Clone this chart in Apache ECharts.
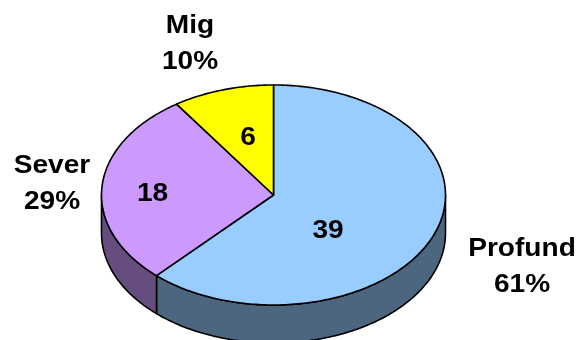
<!DOCTYPE html>
<html><head><meta charset="utf-8">
<script src="https://cdn.jsdelivr.net/npm/echarts@6/dist/echarts.min.js"></script>
<style>html,body{margin:0;background:#fff}#c{width:585px;height:340px}</style>
</head><body><div id="c"></div>
<script>
const categories = ['Profund', 'Sever', 'Mig'];
const values = [39, 18, 6];
const percentLabels = ['61%', '29%', '10%'];

const topColors = ['#99CCFF', '#CC99FF', '#FFFF00'];
const sideColors = ['#4D6680', '#664D80', '#808000'];

// tilted disc geometry, pixels
const disc = { cx: 273.5, cy: 195, rx: 172, ry: 110, depth: 38 };
// value label spots, in disc-radius units from the centre
const innerLabelAt = [[0.317, 0.33], [-0.703, -0.01], [-0.148, -0.52]];
// category label spots, pixels
const outerLabelAt = [[522, 267], [52, 184], [190, 44]];

const FONT = 'bold 26px "Liberation Sans", Arial, sans-serif';
const TEXT_STRETCH = 1.08;
const total = values.reduce((s, v) => s + v, 0);

// point on the rim, angle in degrees clockwise from 12 o'clock
function rim(theta, drop) {
  const r = theta * Math.PI / 180;
  return [disc.cx + disc.rx * Math.sin(r), disc.cy - disc.ry * Math.cos(r) + (drop || 0)];
}
function arc(a, b, drop) {
  const pts = [];
  const n = Math.max(2, Math.ceil(Math.abs(b - a)));
  for (let k = 0; k <= n; k++) pts.push(rim(a + (b - a) * k / n, drop));
  return pts;
}
function label(text, x, y, lineHeight) {
  return { type: 'text', z2: 10, x, y, scaleX: TEXT_STRETCH,
    style: { text, x: 0, y: 0, font: FONT, lineHeight, fill: '#000',
      align: 'center', verticalAlign: 'middle' } };
}

function renderItem(params, api) {
  const i = params.dataIndex;
  const v = api.value(0);
  let before = 0;
  for (let k = 0; k < i; k++) before += values[k];
  const a = before / total * 360;
  const b = (before + v) / total * 360;
  const edge = { stroke: '#000', lineWidth: 1.6, lineJoin: 'round' };
  const children = [];

  // visible front wall (lower half of the rim)
  const sa = Math.max(a, 90), sb = Math.min(b, 270);
  if (sb > sa) {
    const pts = arc(sa, sb, 0).concat(arc(sb, sa, disc.depth));
    children.push({ type: 'polygon', shape: { points: pts },
      style: Object.assign({ fill: sideColors[i] }, edge) });
  }
  // top face wedge
  const top = [[disc.cx, disc.cy]].concat(arc(a, b, 0));
  children.push({ type: 'polygon', shape: { points: top },
    style: Object.assign({ fill: topColors[i] }, edge) });

  // value label on the wedge
  const p = innerLabelAt[i];
  children.push(label(String(v), disc.cx + p[0] * disc.rx, disc.cy + p[1] * disc.ry, 30));

  // category + share label outside
  const q = outerLabelAt[i];
  children.push(label(categories[i] + '\n' + percentLabels[i], q[0], q[1], 36));

  return { type: 'group', children };
}

const chart = echarts.init(document.getElementById('c'), null, { renderer: 'canvas' });
chart.setOption({
  animation: false,
  backgroundColor: '#fff',
  series: [{
    type: 'custom',
    coordinateSystem: 'none',
    data: values.map((v, i) => ({ name: categories[i], value: [v] })),
    renderItem
  }]
});
</script>
</body></html>
